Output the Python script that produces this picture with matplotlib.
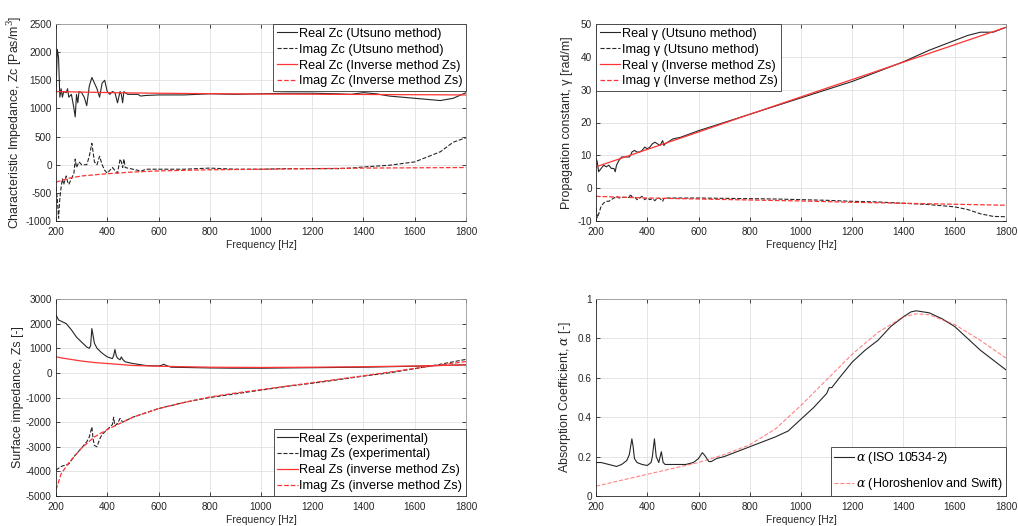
import matplotlib
matplotlib.use("Agg")
import matplotlib.pyplot as plt
import numpy as np

plt.rcParams['font.family'] = ['Liberation Sans', 'DejaVu Sans']
plt.rcParams['mathtext.fontset'] = 'dejavuserif'
plt.rcParams['axes.unicode_minus'] = False

# ---- characteristic impedance (top left)
f_zc = [200, 205, 210, 215, 220, 225, 230, 240, 245, 250, 260, 270, 275, 280, 285, 290,
        300, 310, 320, 330, 340, 350, 360, 370, 380, 390, 400, 410, 420, 430, 440, 450,
        455, 460, 465, 470, 480, 500, 520, 530, 550, 600, 700, 800, 900, 1000, 1100,
        1200, 1300, 1350, 1400, 1450, 1500, 1600, 1700, 1750, 1800]
zc_real_ut = [1300, 2050, 1900, 1200, 1350, 1200, 1300, 1280, 1350, 1200, 1250, 1000, 850,
              1250, 1100, 1300, 1280, 1200, 1050, 1400, 1550, 1450, 1350, 1200, 1450, 1500,
              1300, 1250, 1300, 1280, 1100, 1300, 1250, 1100, 1300, 1280, 1250, 1250, 1250,
              1220, 1230, 1240, 1240, 1260, 1250, 1260, 1270, 1270, 1260, 1250, 1280, 1260,
              1220, 1180, 1140, 1180, 1280]
zc_imag_ut = [-400, -600, -950, -600, -400, -250, -350, -200, -300, -350, -250, -150, 100,
              -50, 0, 50, 0, 0, 0, 150, 380, 50, 0, 150, 0, -100, -150, -100, -50, -100,
              -150, 100, 50, -50, 100, -50, -60, -80, -100, -120, -80, -80, -80, -60, -80,
              -80, -70, -70, -70, -60, -40, -25, -10, 50, 230, 400, 480]
f_zc_inv = [200, 250, 300, 400, 500, 600, 800, 1000, 1200, 1400, 1600, 1800]
zc_real_inv = [1300, 1295, 1290, 1282, 1275, 1270, 1262, 1256, 1252, 1248, 1244, 1240]
zc_imag_inv = [-310, -240, -200, -160, -130, -110, -90, -80, -70, -60, -55, -50]

# ---- propagation constant (top right)
f_g = [200, 205, 210, 220, 230, 240, 250, 260, 270, 275, 280, 290, 300, 310, 320, 330,
       335, 340, 350, 360, 370, 380, 390, 400, 410, 420, 430, 440, 450, 460, 465, 470,
       480, 500, 530, 600, 700, 800, 900, 1000, 1100, 1200, 1300, 1400, 1500, 1600,
       1650, 1700, 1750, 1800]
g_real_ut = [9, 8, 5, 6, 7, 6.5, 7, 6, 6, 5, 7, 8.5, 9.5, 9.5, 9.5, 9.5, 10, 11, 11.5, 11,
             11, 11.5, 12.5, 12, 12.5, 13.5, 14, 13.5, 13, 14.5, 13, 13.5, 14, 15, 15.5,
             17.5, 20, 22.5, 25, 27.5, 30, 32.5, 35.5, 38.5, 42, 45, 46.5, 47.5, 47.5, 49]
g_imag_ut = [-6, -9, -8, -5.5, -4.5, -4, -4, -3.5, -3, -2.8, -2.5, -3, -2.8, -2.8, -2.8,
             -2.8, -1.8, -2.8, -2.6, -3.5, -3, -2.5, -3.5, -3, -3.5, -3.2, -3.8, -3, -3.2,
             -4, -3.2, -3, -3, -3, -3, -3, -3.1, -3.2, -3.3, -3.5, -3.7, -4, -4.2, -4.6,
             -5, -5.7, -6.5, -7.8, -8.6, -8.7]
f_g_inv = [200, 400, 600, 800, 1000, 1200, 1400, 1600, 1800]
g_real_inv = [6.5, 11.8, 17.1, 22.5, 27.8, 33.1, 38.4, 43.7, 49]
g_imag_inv = [-2.5, -3.0, -3.3, -3.6, -3.9, -4.3, -4.6, -4.9, -5.2]

# ---- surface impedance (bottom left)
f_zs = [200, 210, 220, 240, 260, 280, 300, 320, 330, 335, 340, 345, 350, 360, 380, 400,
        420, 425, 430, 435, 440, 450, 455, 460, 470, 500, 550, 600, 610, 620, 630, 650,
        700, 800, 900, 1000, 1200, 1400, 1600, 1800]
zs_real_exp = [2350, 2150, 2100, 2000, 1750, 1450, 1250, 1050, 1000, 1100, 1800, 1500,
               1200, 1000, 800, 650, 580, 700, 950, 700, 600, 530, 650, 550, 450, 380,
               300, 280, 300, 350, 300, 230, 220, 200, 190, 190, 210, 230, 270, 330]
f_zs_im = [200, 220, 250, 270, 300, 320, 330, 340, 345, 350, 360, 370, 380, 400, 420,
           425, 430, 440, 450, 460, 500, 600, 620, 700, 800, 900, 1000, 1100, 1200, 1300,
           1400, 1500, 1600, 1700, 1800]
zs_imag_exp = [-3950, -3800, -3700, -3400, -3050, -2800, -2600, -2200, -2700, -2950,
               -3000, -2700, -2500, -2300, -2100, -1800, -2150, -2050, -1850, -2000, -1800,
               -1450, -1400, -1200, -1000, -850, -700, -550, -420, -280, -130, 0, 170,
               350, 550]
f_zs_inv = [200, 220, 250, 300, 350, 400, 500, 600, 700, 800, 900, 1000, 1200, 1400,
            1600, 1800]
zs_real_inv = [650, 610, 560, 480, 420, 380, 300, 270, 250, 230, 225, 220, 230, 250, 280, 320]
zs_imag_inv = [-4750, -4100, -3650, -3050, -2600, -2300, -1800, -1450, -1200, -980,
               -820, -680, -400, -120, 180, 460]

# ---- absorption coefficient (bottom right)
f_a = [200, 220, 250, 280, 300, 320, 330, 340, 345, 350, 360, 380, 400, 415, 420, 428,
       435, 445, 455, 462, 470, 500, 550, 580, 600, 615, 625, 640, 650, 670, 700, 800,
       900, 950, 1000, 1050, 1100, 1110, 1120, 1150, 1200, 1250, 1300, 1350, 1400, 1430,
       1450, 1500, 1550, 1600, 1650, 1700, 1750, 1800]
a_iso = [0.17, 0.17, 0.16, 0.15, 0.16, 0.18, 0.21, 0.29, 0.25, 0.19, 0.17, 0.16, 0.155,
         0.17, 0.2, 0.29, 0.2, 0.17, 0.225, 0.17, 0.16, 0.16, 0.16, 0.17, 0.19, 0.22,
         0.205, 0.175, 0.175, 0.19, 0.2, 0.25, 0.3, 0.33, 0.39, 0.45, 0.52, 0.55, 0.55,
         0.6, 0.68, 0.74, 0.79, 0.86, 0.91, 0.935, 0.94, 0.93, 0.9, 0.86, 0.8, 0.74,
         0.69, 0.64]
f_a_hs = [200, 300, 400, 500, 600, 700, 800, 900, 1000, 1100, 1200, 1300, 1400, 1450,
          1500, 1600, 1700, 1800]
a_hs = [0.05, 0.08, 0.11, 0.14, 0.17, 0.21, 0.26, 0.34, 0.46, 0.59, 0.72, 0.83, 0.91,
        0.925, 0.92, 0.87, 0.79, 0.70]

K = (0.15, 0.15, 0.15)
R = (1.0, 0.2, 0.2)
AX = (0.15, 0.15, 0.15)
W, H = 1018, 526


def make_ax(fig, x0, x1, ytop, ybot):
    ax = fig.add_axes([x0 / W, 1 - ybot / H, (x1 - x0) / W, (ybot - ytop) / H])
    ax.grid(True, color=(0.88, 0.88, 0.88), linewidth=0.6)
    ax.set_axisbelow(True)
    for s in ax.spines.values():
        s.set_color(AX)
        s.set_linewidth(0.6)
    ax.spines['top'].set_color((0.6, 0.6, 0.6))
    ax.spines['right'].set_color((0.6, 0.6, 0.6))
    ax.tick_params(direction='in', length=3, width=0.6, labelsize=7.2,
                   colors=AX, top=True, right=True)
    ax.tick_params(axis='x', pad=4.5)
    ax.tick_params(axis='y', pad=3)
    ax.set_xlim(200, 1800)
    ax.set_xticks(np.arange(200, 1801, 200))
    ax.set_xlabel('Frequency [Hz]', fontsize=7.5, color=AX, labelpad=2)
    return ax


def legend(ax, loc, fs=9.2, spacing=0.3):
    lg = ax.legend(loc=loc, fontsize=fs, handlelength=1.6, handletextpad=0.1,
                   borderaxespad=0, fancybox=False, framealpha=1, borderpad=0.3,
                   labelspacing=spacing)
    lg.get_frame().set_edgecolor((0.2, 0.2, 0.2))
    lg.get_frame().set_linewidth(0.6)
    return lg


fig = plt.figure(figsize=(W / 100, H / 100), dpi=100)

# top left
ax = make_ax(fig, 56, 466, 24, 221)
ax.plot(f_zc, zc_real_ut, '-', color=K, lw=0.8, label='Real Zc (Utsuno method)')
ax.plot(f_zc, zc_imag_ut, '--', color=K, lw=0.8, label='Imag Zc (Utsuno method)')
ax.plot(f_zc_inv, zc_real_inv, '-', color=R, lw=0.9, label='Real Zc (Inverse method Zs)')
ax.plot(f_zc_inv, zc_imag_inv, '--', color=R, lw=0.9, label='Imag Zc (Inverse method Zs)')
ax.set_ylim(-1000, 2500)
ax.set_yticks(np.arange(-1000, 2501, 500))
ax.set_ylabel('Characteristic Impedance, Zc [Pas/m$^3$]', fontsize=8.9, color=AX)
ax.yaxis.set_label_coords(-0.078, 0.5)
legend(ax, 'upper right')

# top right
ax = make_ax(fig, 596, 1006, 24, 221)
ax.plot(f_g, g_real_ut, '-', color=K, lw=0.8, label='Real \u03b3 (Utsuno method)')
ax.plot(f_g, g_imag_ut, '--', color=K, lw=0.8, label='Imag \u03b3 (Utsuno method)')
ax.plot(f_g_inv, g_real_inv, '-', color=R, lw=0.9, label='Real \u03b3 (Inverse method Zs)')
ax.plot(f_g_inv, g_imag_inv, '--', color=R, lw=0.9, label='Imag \u03b3 (Inverse method Zs)')
ax.set_ylim(-10, 50)
ax.set_yticks(np.arange(-10, 51, 10))
ax.set_ylabel('Propagation constant, \u03b3 [rad/m]', fontsize=8.9, color=AX)
ax.yaxis.set_label_coords(-0.056, 0.5)
legend(ax, 'upper left')

# bottom left
ax = make_ax(fig, 56, 466, 299, 496)
ax.plot(f_zs, zs_real_exp, '-', color=K, lw=0.8, label='Real Zs (experimental)')
ax.plot(f_zs_im, zs_imag_exp, '--', color=K, lw=0.8, label='Imag Zs (experimental)')
ax.plot(f_zs_inv, zs_real_inv, '-', color=R, lw=0.9, label='Real Zs (inverse method Zs)')
ax.plot(f_zs_inv, zs_imag_inv, '--', color=R, lw=0.9, label='Imag Zs (inverse method Zs)')
ax.set_ylim(-5000, 3000)
ax.set_yticks(np.arange(-5000, 3001, 1000))
ax.set_ylabel('Surface impedance, Zs [-]', fontsize=8.9, color=AX)
ax.yaxis.set_label_coords(-0.078, 0.5)
legend(ax, 'lower right')

# bottom right
ax = make_ax(fig, 596, 1006, 299, 496)
ax.plot(f_a, a_iso, '-', color=K, lw=0.8, label=r'$\alpha$ (ISO 10534-2)')
ax.plot(f_a_hs, a_hs, '--', color=R, lw=0.8, alpha=0.6, label=r'$\alpha$ (Horoshenlov and Swift)')
ax.set_ylim(0, 1)
ax.set_yticks(np.arange(0, 1.01, 0.2))
ax.set_yticklabels(['0', '0.2', '0.4', '0.6', '0.8', '1'])
ax.set_ylabel(r'Absorption Coefficient, $\alpha$ [-]', fontsize=8.9, color=AX)
ax.yaxis.set_label_coords(-0.056, 0.5)
legend(ax, 'lower right', fs=9.0, spacing=0.8)

fig.savefig('out.png', dpi=100)
